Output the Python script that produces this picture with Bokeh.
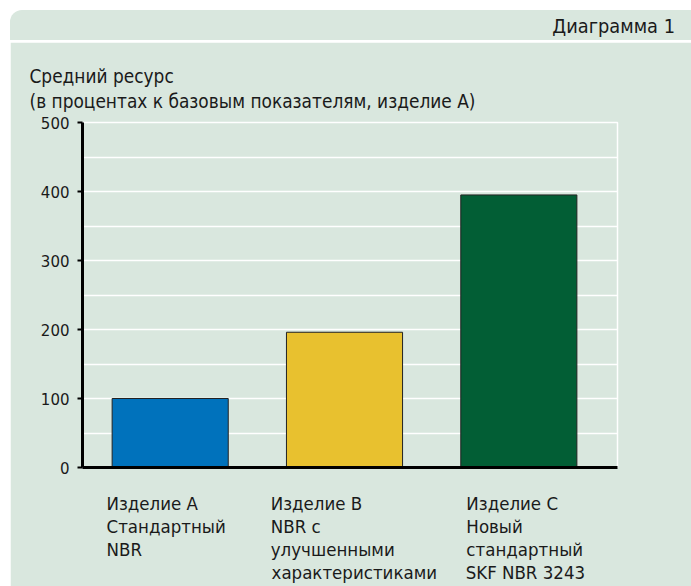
from bokeh.plotting import figure
from bokeh.layouts import column, row, Spacer
from bokeh.models import Range1d, FixedTicker, LinearAxis, Title, Div
from bokeh.embed import file_html
from bokeh.resources import INLINE

# ---- data ----
cat_lines = [["Изделие А", "Стандартный", "NBR"],
             ["Изделие В", "NBR с", "улучшенными", "характеристиками"],
             ["Изделие С", "Новый", "стандартный", "SKF NBR 3243"]]
values = [100, 196, 395]
bar_colors = ["#0072bc", "#e8c12f", "#025e35"]
y_ticks = [0, 100, 200, 300, 400, 500]
grid_ticks = [0, 50, 100, 150, 200, 250, 300, 350, 400, 450, 500]
header_text = "Диаграмма 1"
title_lines = ["Средний ресурс", "(в процентах к базовым показателям, изделие А)"]

# ---- style ----
BG = "#d9e7de"
TXT = "#1a1a1a"
FONT = "DejaVu Sans Condensed"
label_offsets = [-0.365, -0.423, -0.301]   # left edge of category text relative to bar centre
PX_PER_UNIT = 174.3                          # x-scale of the frame (535 px / 3.069 units)
last_line_halfwidth_px = [0, 83.5, 59.0]     # half text width of the 4th label line (centred axis)
label_standoffs = [36, -1, -1, -12]

xs = list(range(len(values)))

# header strip
hdr = Div(text=header_text, width=681, height=30, margin=0,
          styles={"background-color": BG, "font-family": FONT, "font-size": "19.8px",
                  "color": TXT, "text-align": "right", "line-height": "34px",
                  "height": "30px", "padding-right": "16px", "box-sizing": "border-box",
                  "border-top-left-radius": "12px", "overflow": "hidden"})

# main chart
p = figure(width=681, height=544, x_range=Range1d(-0.503, 2.566), y_range=Range1d(0, 500),
           toolbar_location=None, output_backend="svg",
           min_border_left=72, min_border_right=74, min_border_top=80, min_border_bottom=119,
           background_fill_color=BG, border_fill_color=BG,
           outline_line_color="white", outline_line_width=1.5)

p.vbar(x=xs, top=values, width=0.666, fill_color=bar_colors, line_color="#222222", line_width=1)

# two-line chart title
p.add_layout(Title(text="\n".join(title_lines), align="left", offset=-53, standoff=20,
                   text_font=FONT, text_font_size="18.9px", text_font_style="normal",
                   text_line_height=1.15, text_color=TXT), "above")

# y axis
yax = p.yaxis[0]
yax.ticker = FixedTicker(ticks=y_ticks)
yax.axis_line_color = "black"
yax.axis_line_width = 3
yax.major_tick_line_color = "black"
yax.major_tick_line_width = 2
yax.major_tick_in = 0
yax.major_tick_out = 5
yax.minor_tick_line_color = None
yax.major_label_standoff = 8
yax.major_label_text_font = "DejaVu Sans"
yax.major_label_text_font_size = "15px"
yax.major_label_text_color = TXT

# x axes: one per text line of the category labels
label_pos = [i + o for i, o in zip(xs, label_offsets)]
n_lines = max(len(l) for l in cat_lines)
xaxes = [p.xaxis[0]]
for k in range(1, n_lines):
    ax = LinearAxis()
    p.add_layout(ax, "below")
    xaxes.append(ax)
for k, ax in enumerate(xaxes):
    last = (k == n_lines - 1)
    if last:
        pos = [lp + hw / PX_PER_UNIT for lp, hw, l in zip(label_pos, last_line_halfwidth_px, cat_lines) if k < len(l)]
        txt = [l[k] for l in cat_lines if k < len(l)]
        ax.major_label_orientation = "horizontal"
    else:
        pos = label_pos
        txt = [(l[k] if k < len(l) else "") for l in cat_lines]
        ax.major_label_orientation = -1e-6      # numeric orientation -> left-aligned labels
    ax.ticker = FixedTicker(ticks=pos)
    ax.major_label_overrides = {q: t for q, t in zip(pos, txt)}
    ax.major_tick_line_color = None
    ax.minor_tick_line_color = None
    ax.major_tick_in = 0
    ax.major_tick_out = 0
    ax.major_label_text_font = FONT
    ax.major_label_text_font_size = "18.5px"
    ax.major_label_text_color = TXT
    ax.major_label_standoff = label_standoffs[k]
    if k == 0:
        ax.axis_line_color = "black"
        ax.axis_line_width = 3
    else:
        ax.axis_line_color = None

p.xgrid.visible = False
p.ygrid.ticker = FixedTicker(ticks=grid_ticks)
p.ygrid.grid_line_color = "white"
p.ygrid.grid_line_width = 1.5

chart = column(hdr, p, spacing=2)
layout = row(Spacer(width=10), column(Spacer(height=10), chart, spacing=0), spacing=0)
open("out.html", "w").write(file_html(layout, INLINE))
